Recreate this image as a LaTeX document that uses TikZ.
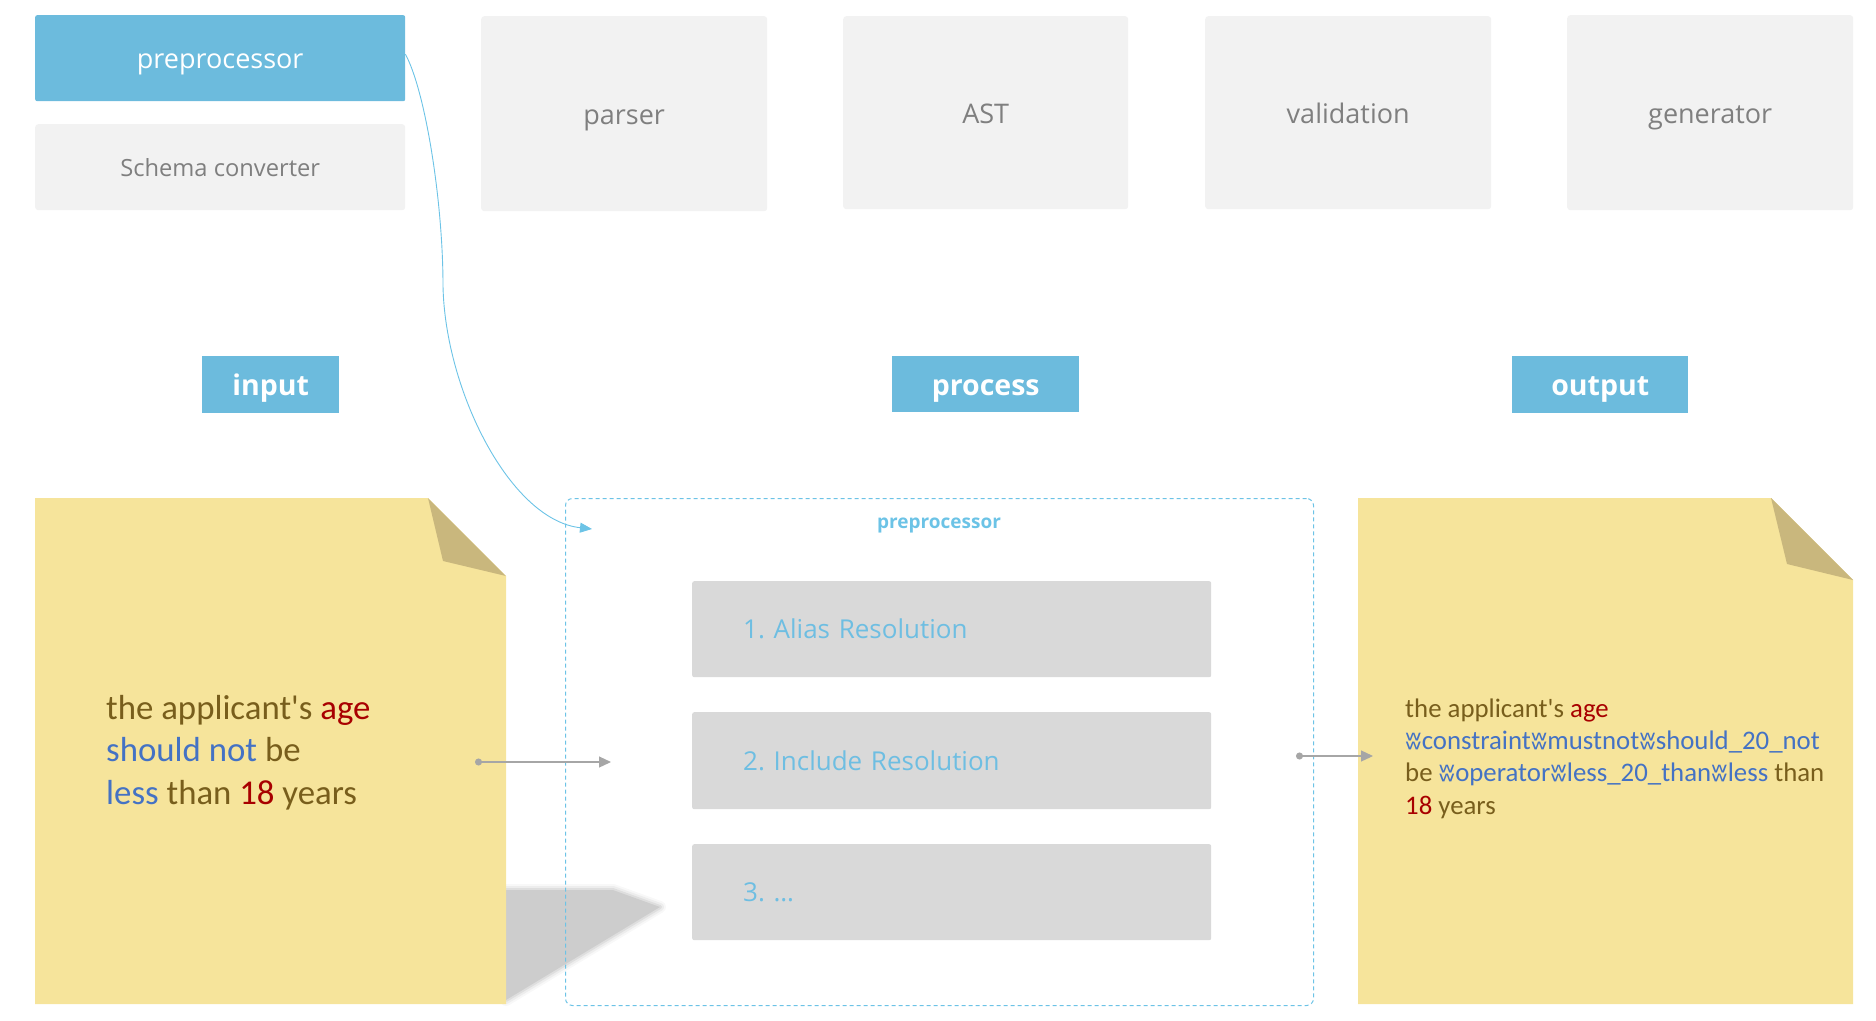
\documentclass[tikz,border=0pt]{standalone}
\usepackage{fontspec}
\setmainfont{Open Sans}
\newfontfamily\notefont{Carlito}
\newfontfamily\ipafont{DejaVu Sans}
\usetikzlibrary{arrows.meta}
\frenchspacing

\definecolor{hdblue}{RGB}{108,187,221}
\definecolor{lightbox}{RGB}{242,242,242}
\definecolor{boxtext}{RGB}{127,127,127}
\definecolor{stepgray}{RGB}{217,217,217}
\definecolor{steptext}{RGB}{110,190,226}
\definecolor{frameblue}{RGB}{108,195,230}
\definecolor{notefill}{RGB}{246,228,155}
\definecolor{foldfill}{RGB}{201,183,125}
\definecolor{notebrown}{RGB}{120,94,28}
\definecolor{notered}{RGB}{168,0,0}
\definecolor{noteblue}{RGB}{68,114,196}
\definecolor{conngray}{RGB}{166,166,166}
\definecolor{shadowgray}{RGB}{205,205,205}

\newcommand{\wsym}{{\ipafont\scalebox{1.2}[0.95]{ʬ}}}
\newcommand{\br}[1]{\textcolor{notebrown}{#1}}
\newcommand{\rd}[1]{\textcolor{notered}{#1}}
\newcommand{\bl}[1]{\textcolor{noteblue}{#1}}

\tikzset{
  hdbox/.style={fill=hdblue, text=white, anchor=north west, inner sep=0pt, rounded corners=2pt, text height=21.5pt, text depth=0pt, font=\fontsize{27}{30}\selectfont},
  graybox/.style={fill=lightbox, text=boxtext, anchor=north west, inner sep=0pt, rounded corners=3pt, text height=21.5pt, text depth=0pt, font=\fontsize{27}{30}\selectfont},
  tagbox/.style={fill=hdblue, text=white, anchor=north west, inner sep=0pt, text height=22pt, text depth=0pt, font=\bfseries\fontsize{28.5}{32}\selectfont},
  stepbox/.style={fill=stepgray, text=steptext, anchor=north west, minimum height=96pt, text width=417pt, inner xsep=51pt, inner ysep=0pt, align=left, rounded corners=2pt, font=\fontsize{26}{30}\selectfont},
  bignote/.style={anchor=base west, inner sep=0pt, font=\notefont\fontsize{34.8}{42}\selectfont},
  smallnote/.style={anchor=base west, inner sep=0pt, font=\notefont\fontsize{26.8}{32}\selectfont},
  flow/.style={draw=conngray, line width=1.2pt, {Circle[length=7pt]}-{Triangle[length=12pt,width=11pt]}},
  link/.style={draw=frameblue, line width=0.9pt, -{Triangle[length=12pt,width=10pt]}}
}

\begin{document}
\begin{tikzpicture}[x=1pt,y=1pt,yscale=-1,xscale=1]
\useasboundingbox (0,0) rectangle (1876,1020);

%Shadow of the input note (soft edge)
\foreach \w/\o in {12/0.15,8/0.25,4/0.45}
  \draw[shadowgray, opacity=\o, line width=\w pt, line join=round] (506,890) -- (613,890) -- (660,907) -- (506,1000) -- cycle;
\fill[shadowgray] (506,890) -- (613,890) -- (660,907) -- (506,1000) -- cycle;

%Input note
\fill[notefill] (35,498) -- (428,498) -- (506,576) -- (506,1004) -- (35,1004) -- cycle;
\fill[foldfill] (428,498) -- (443,561) -- (506,576) -- cycle;
%Output note
\fill[notefill] (1358,498) -- (1771,498) -- (1853,580) -- (1853,1004) -- (1358,1004) -- cycle;
\fill[foldfill] (1771,498) -- (1787,564) -- (1853,580) -- cycle;

% Top row
\node[hdbox, minimum width=370pt, minimum height=86pt] (pre) at (35,15) {preprocessor};
\node[graybox, minimum width=370pt, minimum height=86pt, text height=19.5pt, font=\fontsize{23.7}{28}\selectfont] (schema) at (35,124) {Schema converter};
\node[graybox, minimum width=286pt, minimum height=195pt] (parser) at (481,16) {parser};
\node[graybox, minimum width=285pt, minimum height=193pt] (ast) at (843,16) {AST};
\node[graybox, minimum width=286pt, minimum height=193pt] (valid) at (1205,16) {validation};
\node[graybox, minimum width=286pt, minimum height=195pt] (gen) at (1567,15) {generator};

% Stage tags
\node[tagbox, minimum width=137pt, minimum height=57pt] (input) at (202,356) {input};
\node[tagbox, minimum width=187pt, minimum height=56pt] (process) at (892,356) {process};
\node[tagbox, minimum width=176pt, minimum height=57pt] (output) at (1512,356) {output};

% Preprocessor frame
\node[draw=frameblue, dash pattern=on 4pt off 3pt, line width=1pt, rounded corners=7pt, anchor=north west, inner sep=0pt, minimum width=748pt, minimum height=507pt] (frame) at (565,498) {};
\node[text=frameblue, text height=10.2pt, text depth=0pt, inner sep=0pt, font=\bfseries\fontsize{19}{22}\selectfont] (framelbl) at (939,523) {preprocessor};
\node[stepbox] (alias) at (692,581) {1. Alias Resolution};
\node[stepbox, minimum height=97pt] (include) at (692,712) {2. Include Resolution};
\node[stepbox] (more) at (692,844) {3. \dots};

% Text Node
\node[bignote] (in1) at (106,719) {\br{the applicant's} \rd{age}};
\node[bignote] (in2) at (106,761.5) {\bl{should not} \br{be}};
\node[bignote] (in3) at (106,804) {\bl{less} \br{than} \rd{18} \br{years}};
% Text Node
\node[smallnote] (out1) at (1405,717) {\br{the applicant's} \rd{age}};
\node[smallnote] (out2) at (1405,749.3) {\bl{\wsym constraint\wsym mustnot\wsym should\_20\_not}};
\node[smallnote] (out3) at (1405,781.6) {\br{be} \bl{\wsym operator\wsym less\_20\_than\wsym less} \br{than}};
\node[smallnote] (out4) at (1405,814) {\rd{18} \br{years}};

%Connectors
\coordinate (indot) at (475,762);
\coordinate (inend) at (611,762);
\coordinate (outdot) at (1296,756);
\coordinate (outend) at (1373,756);
\coordinate (prein) at (592,529);
\draw[flow] (indot) -- (inend);
\draw[flow] (outdot) -- (outend);
\draw[link] ([yshift=-4pt]pre.east) .. controls (425,90) and (443,200) .. (443,286) .. controls (445,390) and (510,520) .. (prein);

\end{tikzpicture}
\end{document}
